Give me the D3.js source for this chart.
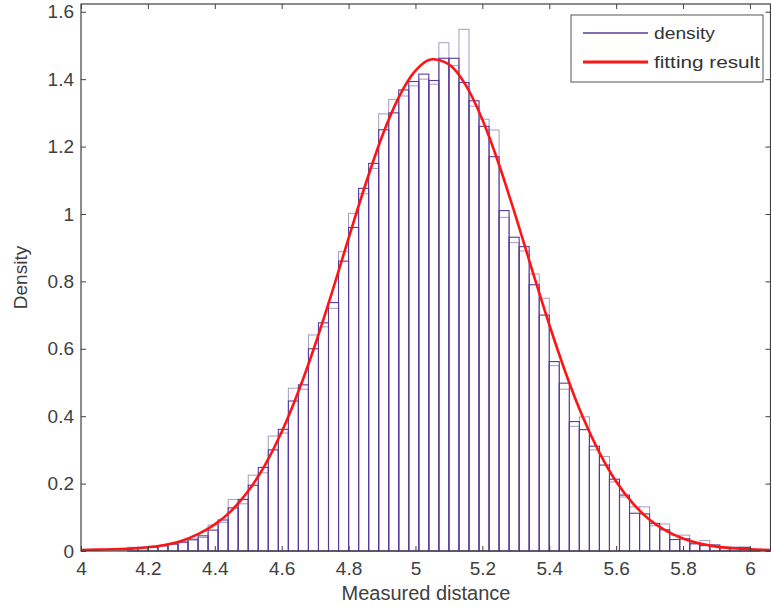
<!DOCTYPE html>
<html>
<head>
<meta charset="utf-8">
<script src="https://cdn.jsdelivr.net/npm/d3@7"></script>
<style>
  body { margin: 0; background: #fff; }
  text { font-family: Arial, "Liberation Sans", sans-serif; fill: #404040; }
</style>
</head>
<body>
<div id="my_dataviz"></div>
<script>
// bin centres of the histogram (width 0.03)
var binCenters = [4.155, 4.185, 4.215, 4.245, 4.275, 4.305, 4.335, 4.365, 4.395, 4.425,
  4.455, 4.485, 4.515, 4.545, 4.575, 4.605, 4.635, 4.665, 4.695, 4.725,
  4.755, 4.785, 4.815, 4.845, 4.875, 4.905, 4.935, 4.965, 4.995, 5.025,
  5.055, 5.085, 5.115, 5.145, 5.175, 5.205, 5.235, 5.265, 5.295, 5.325,
  5.355, 5.385, 5.415, 5.445, 5.475, 5.505, 5.535, 5.565, 5.595, 5.625,
  5.655, 5.685, 5.715, 5.745, 5.775, 5.805, 5.835, 5.865, 5.895, 5.925,
  5.955, 5.985, 6.015];
var binWidth = 0.03;

// density histogram (purple)
var density = [0.008, 0.010, 0.011, 0.016, 0.021, 0.026, 0.035, 0.045, 0.062, 0.092,
  0.128, 0.153, 0.195, 0.248, 0.300, 0.361, 0.445, 0.493, 0.600, 0.677,
  0.737, 0.860, 0.960, 1.076, 1.150, 1.250, 1.300, 1.368, 1.393, 1.415,
  1.396, 1.462, 1.462, 1.390, 1.336, 1.260, 1.170, 1.010, 0.931, 0.903,
  0.790, 0.700, 0.562, 0.498, 0.384, 0.360, 0.311, 0.255, 0.213, 0.166,
  0.112, 0.110, 0.082, 0.063, 0.034, 0.036, 0.023, 0.016, 0.018, 0.011,
  0.011, 0.010, 0.002];

// second, lighter histogram drawn underneath
var densityRef = [0.011, 0.012, 0.014, 0.014, 0.019, 0.029, 0.032, 0.040, 0.077, 0.085,
  0.153, 0.140, 0.225, 0.232, 0.341, 0.350, 0.483, 0.480, 0.641, 0.665,
  0.720, 0.888, 1.002, 1.060, 1.135, 1.297, 1.340, 1.350, 1.380, 1.400,
  1.385, 1.508, 1.440, 1.548, 1.320, 1.281, 1.249, 0.990, 0.915, 0.890,
  0.822, 0.750, 0.550, 0.480, 0.370, 0.398, 0.300, 0.280, 0.205, 0.160,
  0.131, 0.131, 0.075, 0.080, 0.047, 0.047, 0.020, 0.031, 0.015, 0.010,
  0.009, 0.012, 0.003];

// fitted curve
var fitX = [4.00, 4.05, 4.10, 4.15, 4.20, 4.25, 4.30, 4.35, 4.40, 4.45,
  4.50, 4.55, 4.60, 4.65, 4.70, 4.75, 4.80, 4.85, 4.90, 4.95,
  5.00, 5.05, 5.10, 5.15, 5.20, 5.25, 5.30, 5.35, 5.40, 5.45,
  5.50, 5.55, 5.60, 5.65, 5.70, 5.75, 5.80, 5.85, 5.90, 5.95,
  6.00, 6.063];
var fitY = [0.003, 0.004, 0.005, 0.007, 0.011, 0.018, 0.030, 0.050, 0.079, 0.120,
  0.178, 0.255, 0.353, 0.473, 0.612, 0.766, 0.928, 1.086, 1.230, 1.346,
  1.425, 1.459, 1.444, 1.383, 1.280, 1.146, 0.992, 0.830, 0.672, 0.526,
  0.398, 0.292, 0.206, 0.141, 0.093, 0.060, 0.037, 0.022, 0.013, 0.008,
  0.005, 0.003];

var xTicks = [4, 4.2, 4.4, 4.6, 4.8, 5, 5.2, 5.4, 5.6, 5.8, 6];
var xTickLabels = ["4", "4.2", "4.4", "4.6", "4.8", "5", "5.2", "5.4", "5.6", "5.8", "6"];
var yTicks = [0, 0.2, 0.4, 0.6, 0.8, 1, 1.2, 1.4, 1.6];
var yTickLabels = ["0", "0.2", "0.4", "0.6", "0.8", "1", "1.2", "1.4", "1.6"];

var W = 771, H = 612;
// plot box edges in pixels
var box = {left: 81, right: 770.5, top: 4, bottom: 551};

var svg = d3.select("#my_dataviz")
  .append("svg")
    .attr("width", W)
    .attr("height", H);

var x = d3.scaleLinear().domain([4, 6.063]).range([box.left, 771]);
var y = d3.scaleLinear().domain([0, 1.623]).range([box.bottom, box.top]);

var bins = binCenters.map(function(c, i) {
  return { x0: c - binWidth / 2, x1: c + binWidth / 2, p: density[i], g: densityRef[i] };
});

// light histogram
svg.append("g")
  .selectAll("rect")
  .data(bins)
  .enter().append("rect")
    .attr("x", function(d) { return x(d.x0); })
    .attr("width", function(d) { return x(d.x1) - x(d.x0); })
    .attr("y", function(d) { return y(d.g); })
    .attr("height", function(d) { return y(0) - y(d.g); })
    .attr("fill", "none")
    .attr("stroke", "#a49cbf")
    .attr("stroke-width", 1);

// purple histogram
svg.append("g")
  .selectAll("rect")
  .data(bins)
  .enter().append("rect")
    .attr("x", function(d) { return x(d.x0); })
    .attr("width", function(d) { return x(d.x1) - x(d.x0); })
    .attr("y", function(d) { return y(d.p); })
    .attr("height", function(d) { return y(0) - y(d.p); })
    .attr("fill", "none")
    .attr("stroke", "#5a3a98")
    .attr("stroke-width", 1.1);

// fitting result
svg.append("path")
  .datum(fitX.map(function(v, i) { return [v, fitY[i]]; }))
  .attr("fill", "none")
  .attr("stroke", "#ff1414")
  .attr("stroke-width", 2.6)
  .attr("d", d3.line()
    .x(function(d) { return x(d[0]); })
    .y(function(d) { return y(d[1]); })
    .curve(d3.curveMonotoneX));

// axes, ticks pointing inwards like matlab
var axColor = "#404040";
svg.append("g")
  .attr("transform", "translate(0," + box.bottom + ")")
  .call(d3.axisBottom(x).tickValues(xTicks).tickSize(-5).tickSizeOuter(0).tickPadding(11)
    .tickFormat(function(d, i) { return xTickLabels[i]; }))
  .call(function(g) { g.select(".domain").remove(); })
  .selectAll("text").style("font-size", "19px");

svg.append("g")
  .attr("transform", "translate(0," + box.top + ")")
  .call(d3.axisTop(x).tickValues(xTicks).tickSize(-5).tickSizeOuter(0).tickFormat(""))
  .call(function(g) { g.select(".domain").remove(); });

svg.append("g")
  .attr("transform", "translate(" + box.left + ",0)")
  .call(d3.axisLeft(y).tickValues(yTicks).tickSize(-5).tickSizeOuter(0).tickPadding(7)
    .tickFormat(function(d, i) { return yTickLabels[i]; }))
  .call(function(g) { g.select(".domain").remove(); })
  .selectAll("text").style("font-size", "19px");

svg.append("g")
  .attr("transform", "translate(" + box.right + ",0)")
  .call(d3.axisRight(y).tickValues(yTicks).tickSize(-5).tickSizeOuter(0).tickFormat(""))
  .call(function(g) { g.select(".domain").remove(); });

svg.selectAll(".tick line").attr("stroke", axColor);
svg.selectAll(".tick text").style("fill", axColor);

// box
svg.append("rect")
  .attr("x", box.left).attr("y", box.top)
  .attr("width", box.right - box.left).attr("height", box.bottom - box.top)
  .attr("fill", "none")
  .attr("stroke", axColor)
  .attr("stroke-width", 1.2);

// axis titles
svg.append("text")
  .attr("x", (box.left + 771) / 2)
  .attr("y", 600)
  .attr("text-anchor", "middle")
  .style("font-size", "20px")
  .text("Measured distance");

svg.append("text")
  .attr("transform", "translate(27," + ((box.top + box.bottom) / 2) + ") rotate(-90)")
  .attr("text-anchor", "middle")
  .style("font-size", "19px")
  .text("Density");

// legend
var lg = svg.append("g");
lg.append("rect")
  .attr("x", 571).attr("y", 15)
  .attr("width", 192).attr("height", 67)
  .attr("fill", "#fff")
  .attr("stroke", "#555")
  .attr("stroke-width", 1);
lg.append("line")
  .attr("x1", 583).attr("x2", 648).attr("y1", 33).attr("y2", 33)
  .attr("stroke", "#5a3a98").attr("stroke-width", 1.3);
lg.append("line")
  .attr("x1", 583).attr("x2", 648).attr("y1", 62).attr("y2", 62)
  .attr("stroke", "#ff1414").attr("stroke-width", 3);
lg.append("text")
  .attr("x", 654).attr("y", 39)
  .attr("textLength", 61).attr("lengthAdjust", "spacingAndGlyphs")
  .style("font-size", "17px").style("fill", "#333")
  .text("density");
lg.append("text")
  .attr("x", 654).attr("y", 68)
  .attr("textLength", 106).attr("lengthAdjust", "spacingAndGlyphs")
  .style("font-size", "17px").style("fill", "#333")
  .text("fitting result");
</script>
</body>
</html>
